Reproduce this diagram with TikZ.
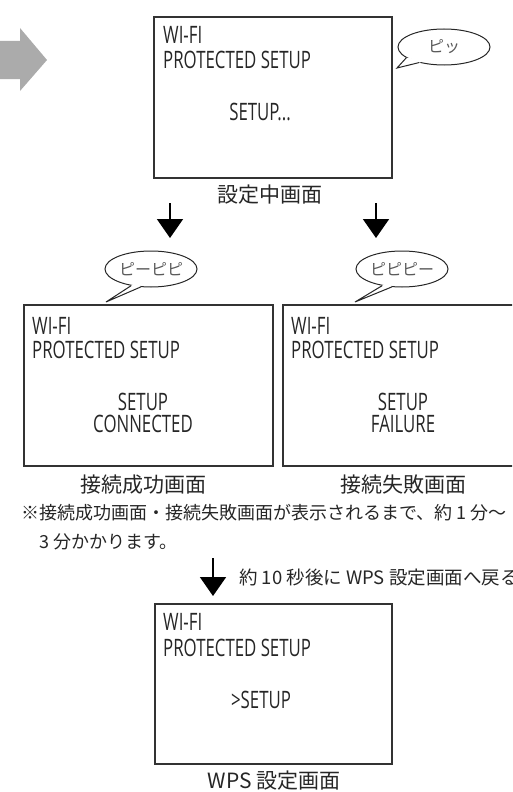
\documentclass[tikz,border=0pt]{standalone}
\usepackage{fontspec}
\setmainfont{Noto Sans CJK JP}
\newfontfamily\lcdfont[FakeStretch=0.7]{Open Sans}
\usetikzlibrary{arrows.meta,shapes.geometric,calc}

\tikzset{
  screen/.style={draw=black!80,line width=1.3pt,minimum width=249pt,minimum height=161pt,inner sep=0pt},
  lcd/.style={font=\lcdfont\fontsize{24}{24}\selectfont,text=black!85,inner sep=0pt},
  caption/.style={font=\fontsize{21}{21}\selectfont,text=black!85,inner sep=0pt},
  note/.style={font=\fontsize{18}{18}\selectfont,text=black!85,inner sep=0pt,anchor=west},
  bubble/.style={ellipse,draw=black!85,line width=1pt,minimum width=92pt,minimum height=36pt,inner sep=0pt,font=\fontsize{16}{16}\selectfont,text=black!65},
  down/.style={line width=1.8pt,-{Triangle[width=26pt,length=19pt]}},
}

\begin{document}
\begin{tikzpicture}[x=1pt,y=-1pt]
  \useasboundingbox (0,0) rectangle (512,792);
  \clip (0,0) rectangle (512,792);

  % big grey arrow
  \fill[black!33] (0,41) -- (20,41) -- (20,28) -- (47,60) -- (20,91) -- (20,79) -- (0,79) -- cycle;

  % screens
  \node[screen,minimum width=238pt] (busy) at (273,97.5) {};
  \node[screen] (ok)   at (148.5,385.5) {};
  \node[screen] (fail) at (407.5,385.5) {};
  \node[screen,minimum width=237pt,minimum height=160pt] (wps) at (273.5,684) {};

  \begin{scope}[every node/.style={lcd,anchor=base west}]
    \node (busy1) at (163,44)  {WI-FI};
    \node (busy2) at (163,69)  {PROTECTED SETUP};
    \node (ok1)   at (32,334)  {WI-FI};
    \node (ok2)   at (32,358)  {PROTECTED SETUP};
    \node (fail1) at (291,334) {WI-FI};
    \node (fail2) at (291,358) {PROTECTED SETUP};
    \node (wps1)  at (163,630) {WI-FI};
    \node (wps2)  at (163,656) {PROTECTED SETUP};
  \end{scope}

  \begin{scope}[every node/.style={lcd,anchor=base}]
    \node (busy3) at (260,120) {SETUP...};
    \node (ok3)   at (143,410) {SETUP};
    \node (ok4)   at (143,432) {CONNECTED};
    \node (fail3) at (403,410) {SETUP};
    \node (fail4) at (403,432) {FAILURE};
    \node (wps3)  at (261,708) {>SETUP};
  \end{scope}

  % captions
  \node[caption] (busyc) at (270,195) {設定中画面};
  \node[caption] (okc)   at (143,485) {接続成功画面};
  \node[caption] (failc) at (403,485) {接続失敗画面};
  \node[caption] (wpsc)  at (274,781) {WPS 設定画面};

  % beeps
  \node[bubble] (beep1) at (444,47)  {ピッ};
  \node[bubble] (beep2) at (151,269) {ピーピピ};
  \node[bubble] (beep3) at (402,269) {ピピピー};
  \coordinate (tip1) at (397,68);
  \coordinate (tip2) at (106,302);
  \coordinate (tip3) at (355,302);
  \foreach \b/\t/\p/\q in {beep1/tip1/196/212,beep2/tip2/220/240,beep3/tip3/220/240}{
    \fill[white] (\b.\p) -- (\t) -- (\b.\q) -- ($(\b.center)!0.75!(\b.225)$) -- cycle;
    \draw[black!85,line width=1pt,line join=miter] (\b.\p) -- (\t) -- (\b.\q);
  }

  % arrows
  \coordinate (d1s) at (170,203);
  \coordinate (d1e) at (170,238);
  \coordinate (d2s) at (376,203);
  \coordinate (d2e) at (376,238);
  \coordinate (d3s) at (213,558);
  \coordinate (d3e) at (213,596);
  \draw[down] (d1s) -- (d1e);
  \draw[down] (d2s) -- (d2e);
  \draw[down] (d3s) -- (d3e);

  % notes
  \node[note] (note1) at (21,513) {※接続成功画面・接続失敗画面が表示されるまで、約 1 分〜};
  \node[note] (note2) at (39,542) {3 分かかります。};
  \node[note,font=\fontsize{18.5}{18.5}\selectfont] (back) at (239,577) {約 10 秒後に WPS 設定画面へ戻る};
\end{tikzpicture}
\end{document}
